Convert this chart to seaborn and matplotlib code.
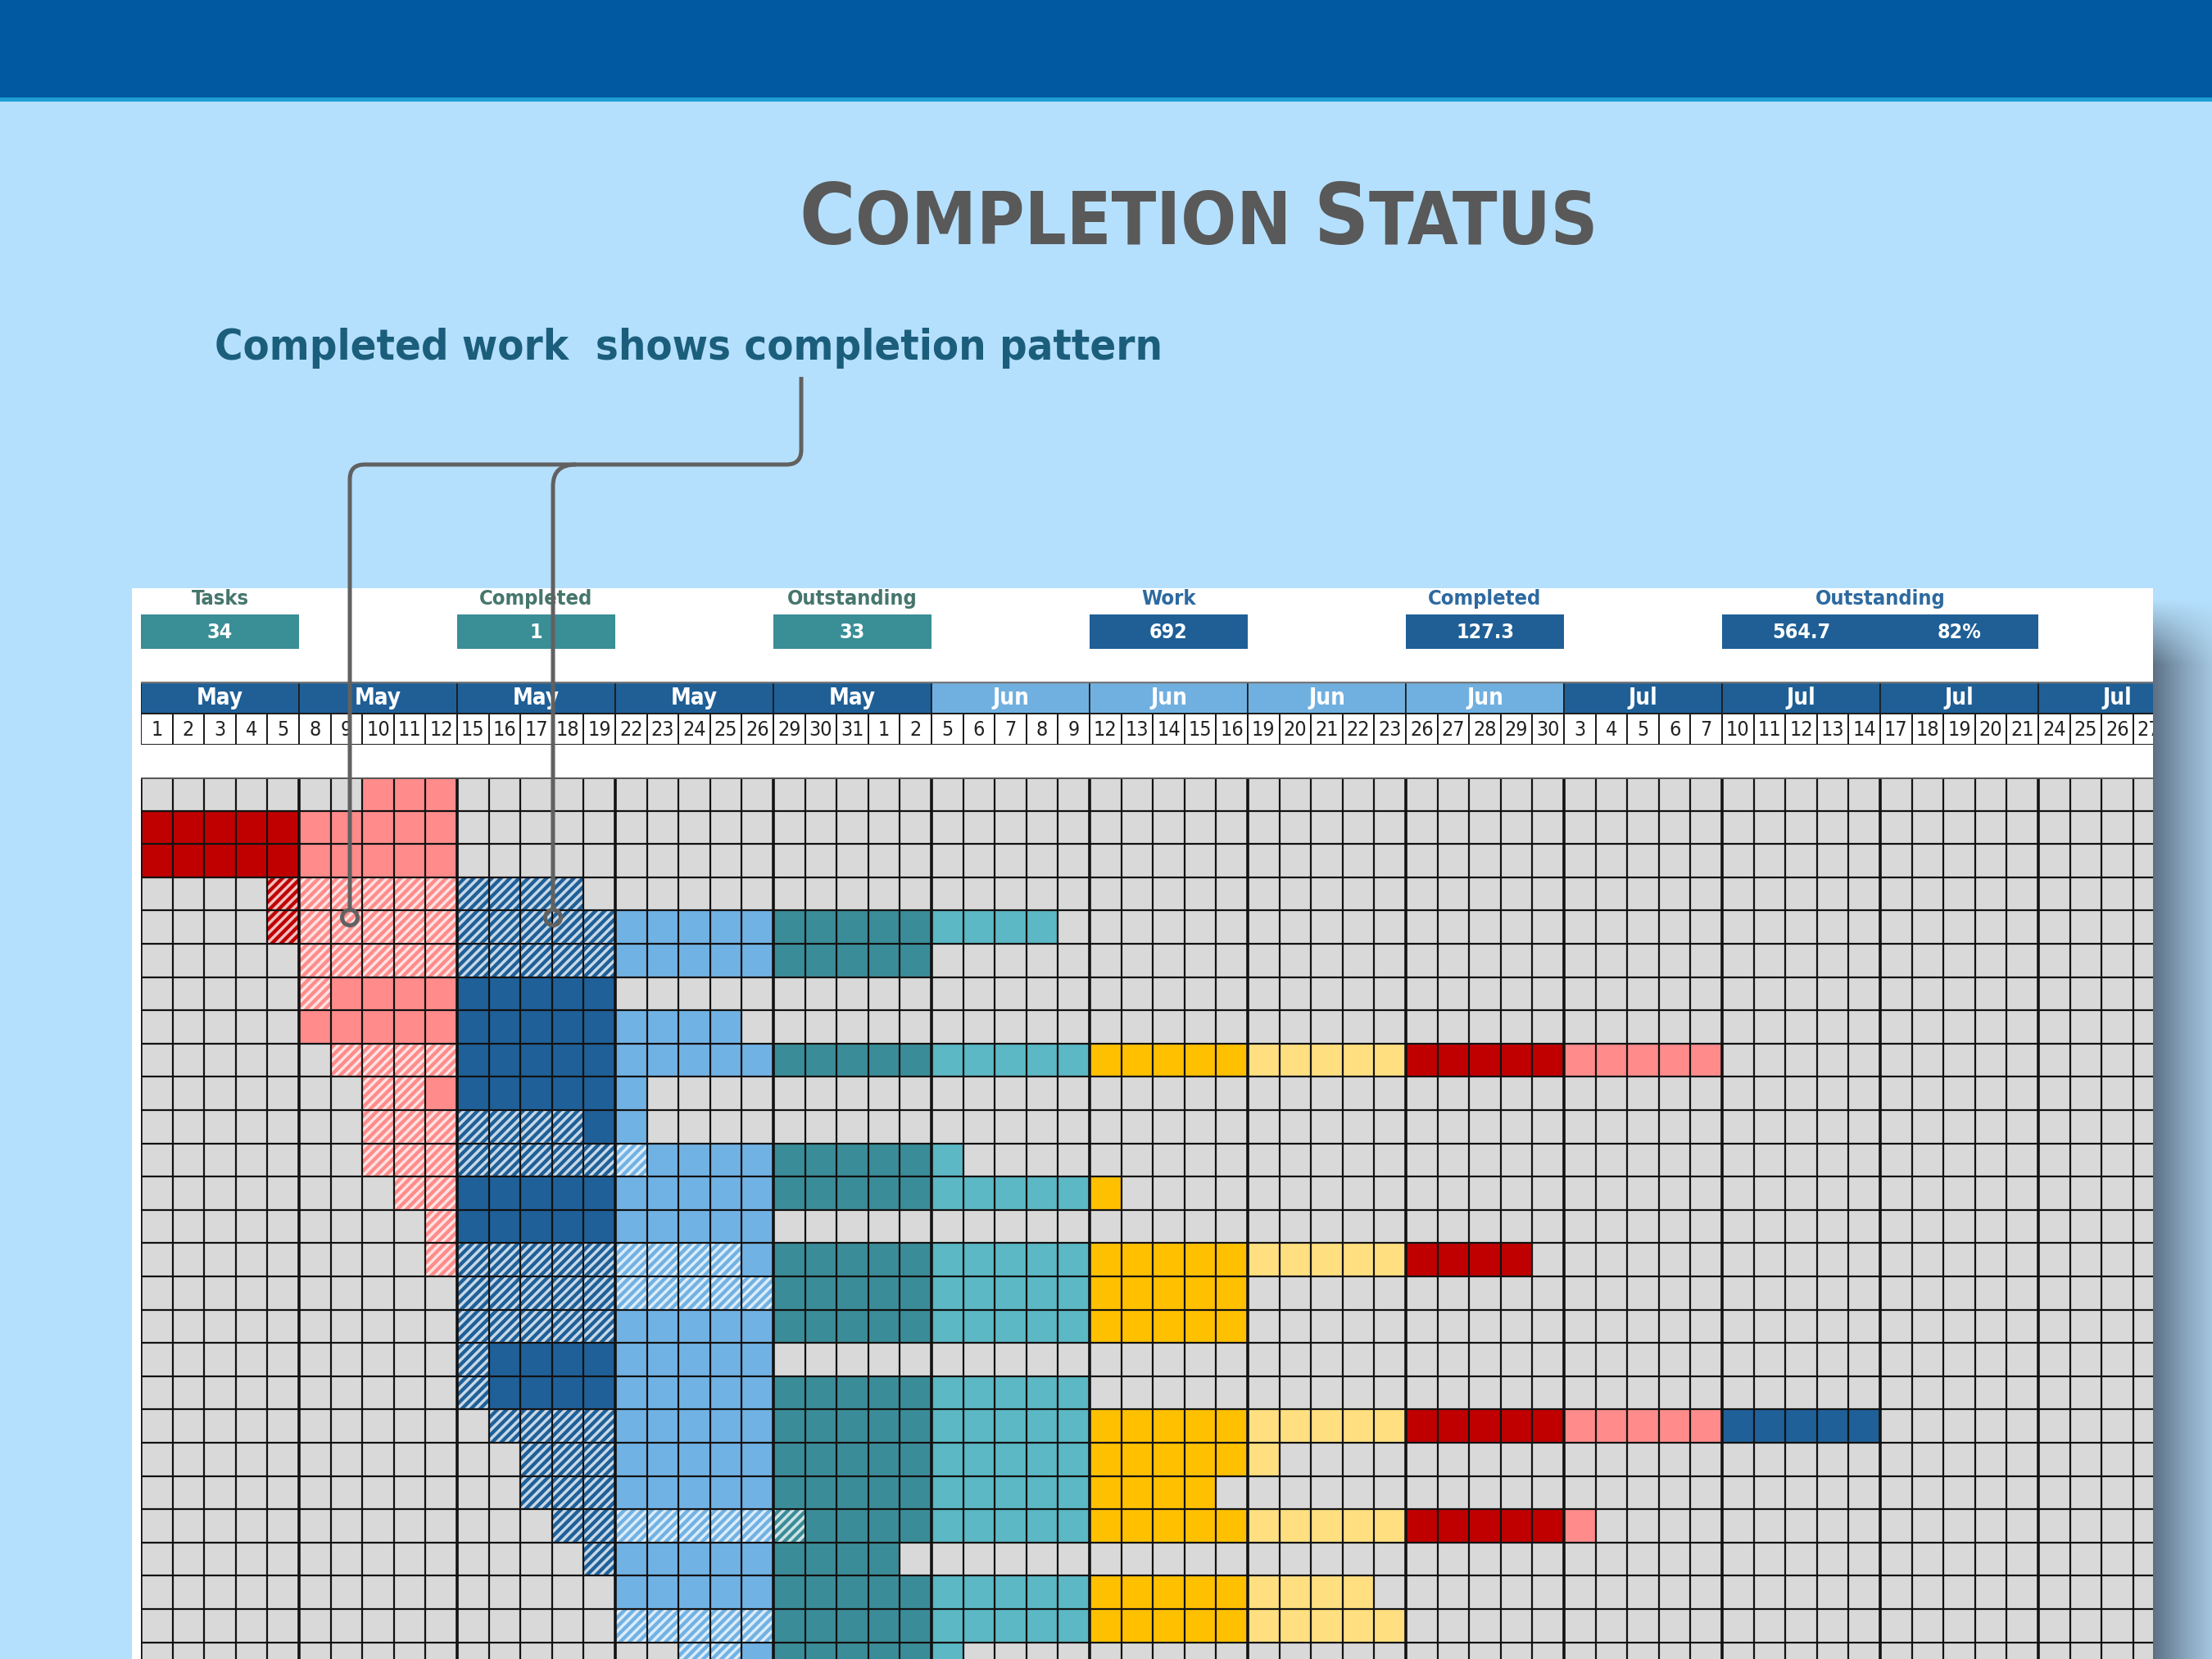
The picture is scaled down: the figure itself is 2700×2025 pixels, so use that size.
import numpy as np
import pandas as pd
import matplotlib
matplotlib.use("Agg")
import matplotlib.pyplot as plt
import seaborn as sns
from matplotlib.colors import ListedColormap
from matplotlib.patches import Rectangle, Circle, PathPatch
from matplotlib.path import Path
from matplotlib import font_manager as fm

# ---------------- data ----------------
week_months = ["May", "May", "May", "May", "May", "Jun", "Jun", "Jun", "Jun",
               "Jul", "Jul", "Jul", "Jul"]
day_labels = [1, 2, 3, 4, 5, 8, 9, 10, 11, 12, 15, 16, 17, 18, 19, 22, 23, 24, 25, 26,
              29, 30, 31, 1, 2, 5, 6, 7, 8, 9, 12, 13, 14, 15, 16, 19, 20, 21, 22, 23,
              26, 27, 28, 29, 30, 3, 4, 5, 6, 7, 10, 11, 12, 13, 14, 17, 18, 19, 20, 21,
              24, 25, 26, 27, 28]
# per task row: first working-day column, duration (working days), completed days
task_start = [7, 0, 0, 4, 4, 5, 5, 5, 6, 7, 7, 7, 8, 9, 9, 10, 10, 10, 10, 11, 12, 12, 13, 14, 15, 15, 17]
task_days = [3, 10, 10, 10, 25, 20, 10, 14, 44, 9, 9, 19, 23, 11, 35, 25, 25, 10, 20, 44, 24, 22, 33, 10, 24, 25, 9]
done_days = [0, 0, 0, 10, 11, 10, 1, 0, 4, 2, 7, 9, 2, 1, 10, 10, 5, 1, 1, 4, 3, 3, 8, 1, 0, 5, 2]

kpi_labels = ["Tasks", "Completed", "Outstanding", "Work", "Completed", "Outstanding"]
kpi_values = ["34", "1", "33", "692", "127.3", "564.7"]
kpi_pct = "82%"

subtitle_text = "Completed work  shows completion pattern"

# ---------------- style ----------------
GRAY = "#d9d9d9"
week_palette = ["#c00000", "#ff8b8b", "#1f6099", "#71b2e4",
                "#3a8d98", "#5bb8c4", "#ffc000", "#ffdf80"]
BG = "#b5e0fd"
names = {f.name for f in fm.fontManager.ttflist}


def pick_font(want_bold):
    cands = []
    for f in fm.fontManager.ttflist:
        key = (f.name + " " + str(f.stretch) + " " + f.fname).lower()
        if not any(k in key for k in ("condensed", "narrow")):
            continue
        if any(k in key for k in ("extra", "ultra", "semi", "italic", "oblique")):
            continue
        w = f.weight if isinstance(f.weight, int) else fm.weight_dict.get(str(f.weight), 400)
        cands.append((abs(w - (700 if want_bold else 400)), f.fname))
    if cands:
        cands.sort()
        return fm.FontProperties(fname=cands[0][1])
    for fam in ("Roboto", "Liberation Sans", "DejaVu Sans"):
        if fam in names:
            return fm.FontProperties(family=fam, weight="bold" if want_bold else "normal")
    return fm.FontProperties(weight="bold" if want_bold else "normal")


FB = pick_font(True)
FR = pick_font(False)


def fp(base, size):
    p = base.copy()
    p.set_size(size)
    return p


W, H = 2700, 2025
fig = plt.figure(figsize=(27, 20.25), dpi=100)
fig.patch.set_facecolor(BG)
R = fig.canvas.get_renderer()


def fit(t, max_w):
    w = t.get_window_extent(renderer=R).width
    if w > max_w:
        p = t.get_fontproperties().copy()
        p.set_size(p.get_size() * max_w / w)
        t.set_fontproperties(p)


bg = fig.add_axes([0, 0, 1, 1], zorder=0)
bg.set_xlim(0, W); bg.set_ylim(H, 0); bg.axis("off")

# banner
bg.add_patch(Rectangle((0, 0), W, 119, color="#0059a1", lw=0))
bg.add_patch(Rectangle((0, 119), W, 5, color="#1d9fd6", lw=0))

# panel + shadow
GX0, GX1 = 172, 2628
CW, RH = 38.6, 40.6
bg.add_patch(Rectangle((161, 718), GX1 - 161, H - 718, color="white", lw=0))
ys = np.linspace(720, H, 400)
xs = np.linspace(0, 1, 80)
img = np.zeros((len(ys), len(xs), 4))
c0 = np.array([0.36, 0.44, 0.52]); c1 = np.array([0.62, 0.74, 0.83])
img[..., :3] = c0 + (c1 - c0) * xs[None, :, None]
img[..., 3] = np.clip((ys[:, None] - 730) / 80, 0, 1) * (1 - 0.25 * xs[None, :])
bg.imshow(img, extent=[GX1, W, H, 720], origin="upper", aspect="auto", zorder=1)
bg.set_xlim(0, W); bg.set_ylim(H, 0)


def colx(c):
    return GX0 + c * CW


# title in small caps (fit to reference width)
pieces = [("C", 99.0, 0.27), ("OMPLETION", 85.0, 0.0), ("S", 99.0, 0.0), ("TATUS", 85.0, 0.0)]
TITLE_W = 975.0


def layout_title(scale):
    objs, x = [], 0.0
    for s, size, gap in pieces:
        t = bg.text(0, 298, s, fontproperties=fp(FB, size * scale), color="#595959",
                    ha="left", va="baseline")
        objs.append((t, x))
        x += t.get_window_extent(renderer=R).width
        if s == "OMPLETION":
            x += 0.3 * size * scale * 100 / 72
    return objs, x


objs, total = layout_title(1.0)
if total > TITLE_W:
    for t, _ in objs:
        t.remove()
    objs, total = layout_title(TITLE_W / total)
for t, off in objs:
    t.set_x(1463 - total / 2 + off)

st = bg.text(262, 439, subtitle_text, fontproperties=fp(FB, 46), color="#1b5e7b",
             ha="left", va="baseline")
fit(st, 1157)

# KPI row: common label size so that "Outstanding" fits the reference width
probe = bg.text(0, 0, "Outstanding", fontproperties=fp(FB, 20))
pw = probe.get_window_extent(renderer=R).width
probe.remove()
LAB_SIZE = 20 * min(1.0, 160 / pw)

kpi_cols = [0, 10, 20, 30, 40, 50]
kpi_span = [5, 5, 5, 5, 5, 10]
for i, (lab, val) in enumerate(zip(kpi_labels, kpi_values)):
    x0 = colx(kpi_cols[i]); wdt = kpi_span[i] * CW
    fc = "#3a8e96" if i < 3 else "#1f5f96"
    tc = "#46766c" if i < 3 else "#2d6aa0"
    bg.add_patch(Rectangle((x0, 750), wdt, 42, color=fc, lw=0, zorder=2))
    bg.text(x0 + wdt / 2, 731, lab, fontproperties=fp(FB, LAB_SIZE), color=tc,
            ha="center", va="center", zorder=3)
    if kpi_span[i] == 5:
        bg.text(x0 + wdt / 2, 772, val, fontproperties=fp(FB, 18), color="white",
                ha="center", va="center", zorder=3)
    else:
        bg.text(x0 + wdt / 4, 772, val, fontproperties=fp(FB, 18), color="white",
                ha="center", va="center", zorder=3)
        bg.text(x0 + 3 * wdt / 4, 772, kpi_pct, fontproperties=fp(FB, 18), color="white",
                ha="center", va="center", zorder=3)

NCOL = len(day_labels)
XMAX = (GX1 - GX0) / CW

# header axes (months + days)
hax = fig.add_axes([GX0 / W, 1 - 909 / H, (GX1 - GX0) / W, 77 / H], zorder=2)
hax.set_xlim(0, XMAX); hax.set_ylim(2, 0); hax.axis("off")
for wk, m in enumerate(week_months):
    fc = "#70b0e0" if m == "Jun" else "#1f5f96"
    hax.add_patch(Rectangle((wk * 5, 0), 5, 1, facecolor=fc, edgecolor="#1a1a1a", lw=1.2))
    hax.text(wk * 5 + 2.5, 0.52, m, fontproperties=fp(FB, 20), color="white",
             ha="center", va="center", clip_on=True)
for c, d in enumerate(day_labels):
    hax.add_patch(Rectangle((c, 1), 1, 1, facecolor="white", edgecolor="#1a1a1a", lw=1.4))
    t = hax.text(c + 0.5, 1.52, str(d), fontproperties=fp(FR, 18), color="#222222",
                 ha="center", va="center", clip_on=True)
    fit(t, 33)
hax.axhline(0, color="#777777", lw=2.5)

# main grid via seaborn heatmap
codes = np.zeros((len(task_start), NCOL), dtype=int)
for i, (s, n) in enumerate(zip(task_start, task_days)):
    for c in range(s, min(s + n, NCOL)):
        codes[i, c] = (c // 5) % len(week_palette) + 1
df = pd.DataFrame(codes, columns=[str(d) for d in day_labels])
cmap = ListedColormap([GRAY] + week_palette)

gax = fig.add_axes([GX0 / W, 0, (GX1 - GX0) / W, (H - 949) / H], zorder=2)
sns.heatmap(df, ax=gax, cmap=cmap, vmin=-0.5, vmax=len(week_palette) + 0.5,
            cbar=False, xticklabels=False, yticklabels=False, linewidths=0)
plt.rcParams["hatch.linewidth"] = 2.5
for i, (s, n) in enumerate(zip(task_start, done_days)):
    for c in range(s, s + n):
        gax.add_patch(Rectangle((c, i), 1, 1, fill=False, hatch="///",
                                edgecolor=(1, 1, 1, 0.76), lw=0))
for c in range(NCOL + 1):
    gax.axvline(c, color="#121212", lw=2.6 if c % 5 == 0 else 1.6, zorder=5)
for rr in range(len(task_start) + 1):
    gax.axhline(rr, color="#121212", lw=1.6, zorder=5)
gax.axhline(0, color="#555555", lw=2.8, zorder=6)
gax.set_xlim(0, XMAX)
gax.set_ylim((H - 949) / RH, 0)
gax.axis("off")

# callout lines
ov = fig.add_axes([0, 0, 1, 1], zorder=10)
ov.set_xlim(0, W); ov.set_ylim(H, 0); ov.axis("off"); ov.patch.set_alpha(0)
LC = "#616161"
verts = [(978, 460), (978, 549), (978, 567), (960, 567), (445, 567), (427, 567), (427, 585), (427, 1109)]
codes_p = [Path.MOVETO, Path.LINETO, Path.CURVE3, Path.CURVE3, Path.LINETO, Path.CURVE3, Path.CURVE3, Path.LINETO]
ov.add_patch(PathPatch(Path(verts, codes_p), fill=False, edgecolor=LC, lw=3.6, capstyle="butt"))
verts2 = [(703, 567), (675, 567), (675, 593), (675, 1109)]
codes2 = [Path.MOVETO, Path.CURVE3, Path.CURVE3, Path.LINETO]
ov.add_patch(PathPatch(Path(verts2, codes2), fill=False, edgecolor=LC, lw=3.6))
for cx in (427, 675):
    ov.add_patch(Circle((cx, 1120), 9.5, fill=False, edgecolor=LC, lw=3.6))

fig.savefig("out.png", dpi=100, facecolor=BG)
